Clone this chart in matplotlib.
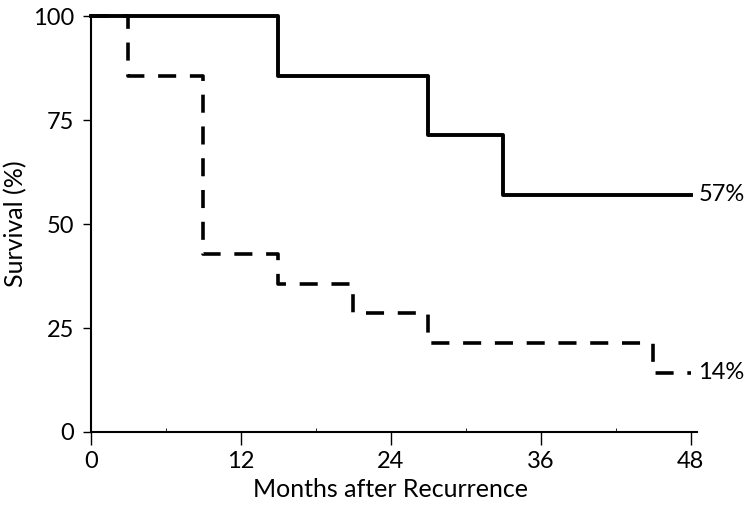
import matplotlib
matplotlib.use('Agg')
import matplotlib.pyplot as plt

plt.rcParams['font.family'] = ['Lato', 'DejaVu Sans']

# Kaplan-Meier steps (months, survival %)
months_a = [0, 15, 27, 33, 48]
surv_a = [100, 85.7, 71.4, 57.1, 57.1]

months_b = [0, 3, 9, 15, 21, 27, 45, 48]
surv_b = [100, 85.7, 42.9, 35.7, 28.6, 21.4, 14.3, 14.3]

end_labels = ['57%', '14%']

fig = plt.figure(figsize=(7.5, 5.07), dpi=100)
ax = fig.add_axes([0.121, 0.148, 0.8, 0.82])

ax.step(months_b, surv_b, where='post', color='black', lw=2.6, dashes=(5, 3.8), clip_on=False)
ax.step(months_a, surv_a, where='post', color='black', lw=2.8, clip_on=False, zorder=3)

ax.text(months_a[-1] + 0.6, surv_a[-1], end_labels[0], va='center', ha='left', fontsize=17)
ax.text(months_b[-1] + 0.6, surv_b[-1], end_labels[1], va='center', ha='left', fontsize=17)

ax.set_xlim(0, 48)
ax.set_ylim(0, 100)
ax.set_xticks([0, 12, 24, 36, 48])
ax.set_yticks([0, 25, 50, 75, 100])
ax.set_xticks([6, 18, 30, 42], minor=True)
ax.tick_params(axis='x', labelsize=17, length=9, width=1, direction='out', pad=5)
ax.tick_params(axis='y', labelsize=17, length=6, width=1, direction='out', pad=6)
ax.tick_params(axis='x', which='minor', length=3, direction='in')

ax.spines['top'].set_visible(False)
ax.spines['right'].set_visible(False)
ax.spines['left'].set_linewidth(1.5)
ax.spines['bottom'].set_linewidth(1.5)
ax.spines['bottom'].set_bounds(0, 48.5)

ax.set_xlabel('Months after Recurrence', fontsize=18, labelpad=4)
ax.set_ylabel('Survival (%)', fontsize=18, labelpad=4)

fig.savefig('out.png', dpi=100)
